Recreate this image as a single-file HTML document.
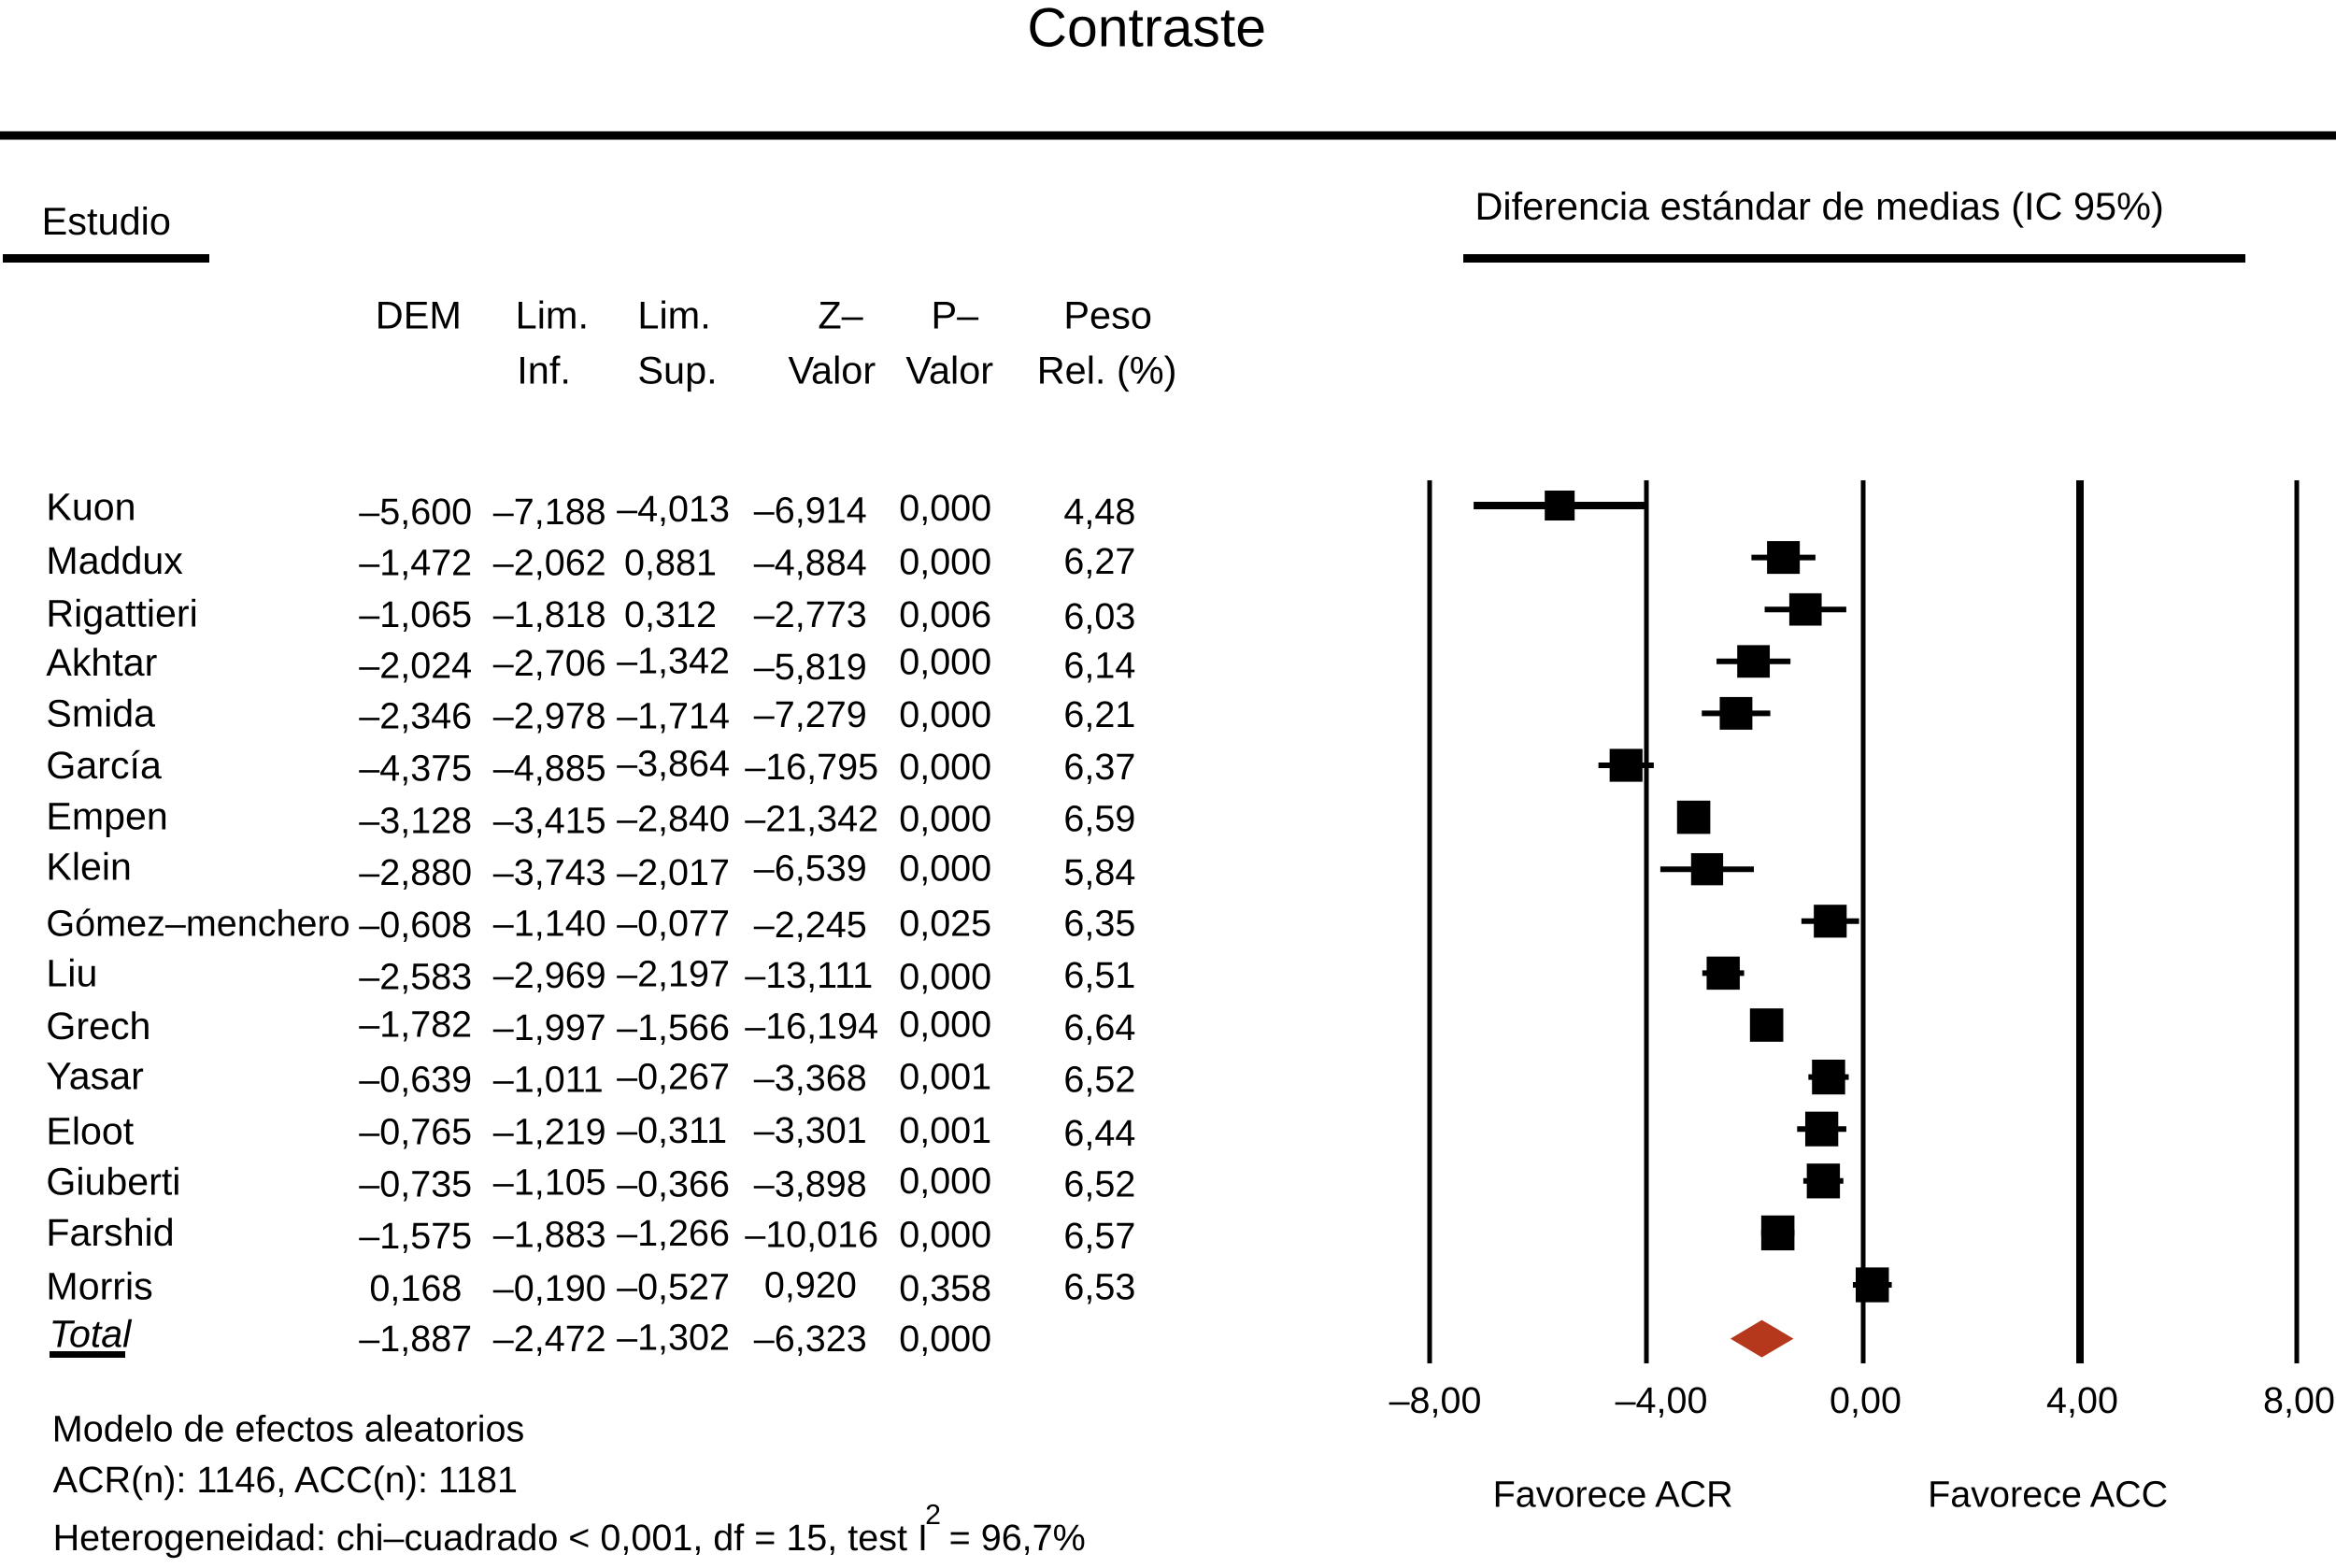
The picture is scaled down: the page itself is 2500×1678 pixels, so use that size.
<!DOCTYPE html>
<html lang="es">
<head>
<meta charset="utf-8">
<title>Contraste</title>
<style>
html,body{margin:0;padding:0;background:#fff;width:2500px;height:1678px;overflow:hidden}
svg{display:block}
text{font-family:"Liberation Sans",sans-serif;fill:#000;text-rendering:geometricPrecision}
.n{font-size:25.8px}
.h{font-size:26px}
</style>
</head>
<body>
<svg id="forest" xmlns="http://www.w3.org/2000/svg" width="2500" height="1678" viewBox="0 0 2500 1678">
<rect x="0" y="0" width="2500" height="1678" fill="#fff"/>
<rect x="0" y="140.5" width="2500" height="9" fill="#000"/>
<rect x="3" y="272" width="221" height="9" fill="#000"/>
<rect x="1566" y="272" width="837" height="9" fill="#000"/>
<rect x="53" y="1446" width="81" height="7" fill="#000"/>
<g id="plot"></g>
<g transform="scale(1.5944)" font-size="24.8">
<text x="689.5" y="31" font-size="37">Contraste</text>
<text class="h" x="28" y="157.3">Estudio</text>
<text class="h" x="990" y="147.5">Diferencia estándar de medias (IC 95%)</text>
<text class="h" x="252" y="220.5">DEM</text>
<text class="h" x="346" y="220.5">Lim.</text>
<text class="h" x="347" y="257.5">Inf.</text>
<text class="h" x="428" y="220.5">Lim.</text>
<text class="h" x="428" y="257.5">Sup.</text>
<text class="h" x="549" y="220.5">Z–</text>
<text class="h" x="529" y="257.5">Valor</text>
<text class="h" x="625" y="220.5">P–</text>
<text class="h" x="608" y="257.5">Valor</text>
<text class="h" x="714" y="220.5">Peso</text>
<text class="h" x="696" y="257.5">Rel. (%)</text>
<text x="1002" y="1011.5">Favorece ACR</text>
<text x="1294" y="1011.5">Favorece ACC</text>
<text x="35" y="967.5">Modelo de efectos aleatorios</text>
<text x="35.5" y="1001.5">ACR(n): 1146, ACC(n): 1181</text>
<text x="35.5" y="1040.5">Heterogeneidad: chi–cuadrado &lt; 0,001, df = 15, test I</text>
<text x="621" y="1023" font-size="19">2</text>
<text x="637" y="1040.5">= 96,7%</text>
</g>
<g transform="scale(1.5944) translate(0,9)" font-size="24.8">
<text class="n" x="31" y="340">Kuon</text><text x="241" y="343">–5,600</text><text x="331" y="343">–7,188</text><text x="414" y="341">–4,013</text><text x="506" y="342">–6,914</text><text x="603.5" y="340.5">0,000</text><text x="714" y="343">4,48</text>
<text class="n" x="31" y="376">Maddux</text><text x="241" y="377">–1,472</text><text x="331" y="377">–2,062</text><text x="419" y="377">0,881</text><text x="506" y="377">–4,884</text><text x="603.5" y="376.5">0,000</text><text x="714" y="376">6,27</text>
<text class="n" x="31" y="411.5">Rigattieri</text><text x="241" y="412">–1,065</text><text x="331" y="412">–1,818</text><text x="419" y="412">0,312</text><text x="506" y="412">–2,773</text><text x="603.5" y="412">0,006</text><text x="714" y="413">6,03</text>
<text class="n" x="31" y="444.5">Akhtar</text><text x="241" y="446">–2,024</text><text x="331" y="444.5">–2,706</text><text x="414" y="443">–1,342</text><text x="506" y="447">–5,819</text><text x="603.5" y="443.5">0,000</text><text x="714" y="446">6,14</text>
<text class="n" x="31" y="478.5">Smida</text><text x="241" y="480">–2,346</text><text x="331" y="480">–2,978</text><text x="414" y="480">–1,714</text><text x="506" y="479">–7,279</text><text x="603.5" y="479">0,000</text><text x="714" y="479">6,21</text>
<text class="n" x="31" y="513.5">García</text><text x="241" y="515">–4,375</text><text x="331" y="515">–4,885</text><text x="414" y="512">–3,864</text><text x="500" y="514">–16,795</text><text x="603.5" y="514">0,000</text><text x="714" y="514">6,37</text>
<text class="n" x="31" y="547.5">Empen</text><text x="241" y="550">–3,128</text><text x="331" y="550">–3,415</text><text x="414" y="549">–2,840</text><text x="500" y="549">–21,342</text><text x="603.5" y="549">0,000</text><text x="714" y="549">6,59</text>
<text class="n" x="31" y="581.5">Klein</text><text x="241" y="585">–2,880</text><text x="331" y="585">–3,743</text><text x="414" y="585">–2,017</text><text x="506" y="582">–6,539</text><text x="603.5" y="582">0,000</text><text x="714" y="585">5,84</text>
<text x="31" y="619">Gómez–menchero</text><text x="241" y="620">–0,608</text><text x="331" y="619">–1,140</text><text x="414" y="619">–0,077</text><text x="506" y="620">–2,245</text><text x="603.5" y="619">0,025</text><text x="714" y="619">6,35</text>
<text class="n" x="31" y="653">Liu</text><text x="241" y="655">–2,583</text><text x="331" y="654">–2,969</text><text x="414" y="653">–2,197</text><text x="500" y="654">–13,111</text><text x="603.5" y="655">0,000</text><text x="714" y="654">6,51</text>
<text class="n" x="31" y="688.5">Grech</text><text x="241" y="687">–1,782</text><text x="331" y="689">–1,997</text><text x="414" y="689">–1,566</text><text x="500" y="688">–16,194</text><text x="603.5" y="687">0,000</text><text x="714" y="689">6,64</text>
<text class="n" x="31" y="722">Yasar</text><text x="241" y="724">–0,639</text><text x="331" y="724">–1,011</text><text x="414" y="722">–0,267</text><text x="506" y="723">–3,368</text><text x="603.5" y="722">0,001</text><text x="714" y="724">6,52</text>
<text class="n" x="31" y="759">Eloot</text><text x="241" y="759">–0,765</text><text x="331" y="759">–1,219</text><text x="414" y="758">–0,311</text><text x="506" y="758">–3,301</text><text x="603.5" y="758">0,001</text><text x="714" y="760">6,44</text>
<text class="n" x="31" y="793">Giuberti</text><text x="241" y="794">–0,735</text><text x="331" y="793">–1,105</text><text x="414" y="794">–0,366</text><text x="506" y="794">–3,898</text><text x="603.5" y="792">0,000</text><text x="714" y="794">6,52</text>
<text class="n" x="31" y="827">Farshid</text><text x="241" y="829">–1,575</text><text x="331" y="828">–1,883</text><text x="414" y="827">–1,266</text><text x="500" y="828">–10,016</text><text x="603.5" y="828">0,000</text><text x="714" y="829">6,57</text>
<text class="n" x="31" y="863">Morris</text><text x="248" y="864">0,168</text><text x="331" y="864">–0,190</text><text x="414" y="863">–0,527</text><text x="513" y="862">0,920</text><text x="603.5" y="864">0,358</text><text x="714" y="863">6,53</text>
<text class="n" x="33" y="895" font-style="italic">Total</text><text x="241" y="898">–1,887</text><text x="331" y="898">–2,472</text><text x="414" y="897">–1,302</text><text x="506" y="898">–6,323</text><text x="603.5" y="898">0,000</text>
</g>
</svg>
<script>
var studies = ["Kuon","Maddux","Rigattieri","Akhtar","Smida","García","Empen","Klein","Gómez-menchero","Liu","Grech","Yasar","Eloot","Giuberti","Farshid","Morris"];
var effects = [-5.600,-1.472,-1.065,-2.024,-2.346,-4.375,-3.128,-2.880,-0.608,-2.583,-1.782,-0.639,-0.765,-0.735,-1.575,0.168];
var lowerLimits = [-7.188,-2.062,-1.818,-2.706,-2.978,-4.885,-3.415,-3.743,-1.140,-2.969,-1.997,-1.011,-1.219,-1.105,-1.883,-0.190];
var upperLimits = [-4.013,-0.881,-0.312,-1.342,-1.714,-3.864,-2.840,-2.017,-0.077,-2.197,-1.566,-0.267,-0.311,-0.366,-1.266,0.527];
var weights = [4.48,6.27,6.03,6.14,6.21,6.37,6.59,5.84,6.35,6.51,6.64,6.52,6.44,6.52,6.57,6.53];
var totalEffect = -1.87;
var totalLower = -2.45;
var totalUpper = -1.285;
var tickValues = [-8,-4,0,4,8];
var tickLabels = ["–8,00","–4,00","0,00","4,00","8,00"];

var NS = "http://www.w3.org/2000/svg";
var plot = document.getElementById("plot");
function xScale(v){ return 1994 + v * 58; }
function yScale(i){ return 541 + i * 55.6; }
function boxSize(w){ return 32 + (w - 4.48) * 1.7; }
function labelOffset(v){ return v === -8 ? 6 : (v === -4 ? 16 : 2.5); }
function slug(s){ return s.toLowerCase().normalize("NFD").replace(/[^a-z-]/g, ""); }
function make(tag, attrs){
  var el = document.createElementNS(NS, tag);
  for (var k in attrs) el.setAttribute(k, attrs[k]);
  plot.appendChild(el);
  return el;
}

tickValues.forEach(function(v, i){
  var line = make("line", {x1:xScale(v), x2:xScale(v), y1:514, y2:1459, stroke:"#000", "stroke-width":v === 4 ? 8 : 5});
  
  
  var label = make("text", {x:xScale(v) + labelOffset(v), y:1512, "text-anchor":"middle", "font-size":39.5});
  label.textContent = tickLabels[i];
  
  
});

studies.forEach(function(name, i){
  var ci = make("line", {x1:xScale(lowerLimits[i]), x2:xScale(upperLimits[i]), y1:yScale(i), y2:yScale(i), stroke:"#000", "stroke-width":i === 0 ? 8 : 6});
  
  
  var s = boxSize(weights[i]);
  var h = s * (i > 10 ? 1.05 : 1);
  var box = make("rect", {x:xScale(effects[i]) - s / 2, y:yScale(i) - h / 2, width:s, height:h, fill:"#000"});
  
  
});

var cy = yScale(16) + 2;
var diamond = make("polygon", {
  points:[xScale(totalLower)+","+cy, xScale(totalEffect)+","+(cy-20), xScale(totalUpper)+","+cy, xScale(totalEffect)+","+(cy+20)].join(" "),
  fill:"#b5381c"
});


</script>
</body>
</html>
